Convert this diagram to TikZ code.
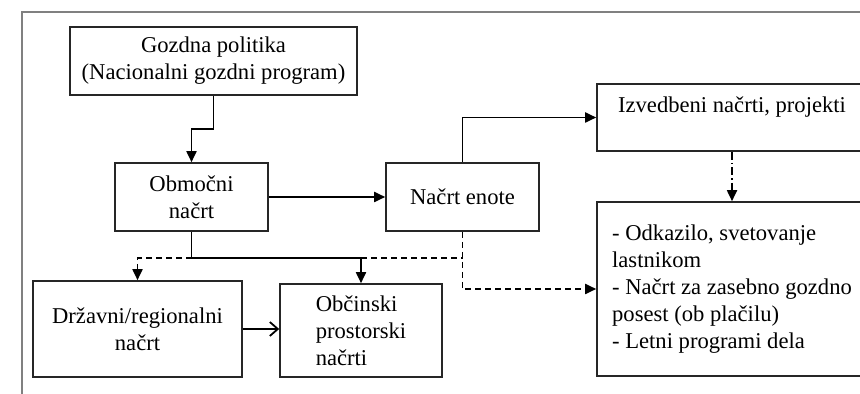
\documentclass[tikz,border=0pt]{standalone}
\usepackage{fontspec}
\setmainfont{Liberation Serif}
\usetikzlibrary{arrows.meta}

\begin{document}
\begin{tikzpicture}[x=0.5pt,y=-0.5pt,
  box/.style={draw=black!85,line width=0.8pt,align=center,inner sep=2pt,
    font=\fontsize{11.3}{13.4}\selectfont},
  link/.style={line width=0.9pt,-{Triangle[length=5.5pt,width=5pt]}},
  dashline/.style={dash pattern=on 3pt off 2pt}]
\useasboundingbox (0,0) rectangle (860,394);
\clip (0,0) rectangle (860,394);
\draw[gray,line width=0.7pt] (22,400) -- (22,12) -- (870,12);
% boxes
\node[box,minimum width=143.5pt,minimum height=34pt](pol) at (213.5,61){Gozdna politika\\(Nacionalni gozdni program)};
\node[box,minimum width=76.5pt,minimum height=34pt](obm) at (191.5,197){Območni\\načrt};
\node[box,minimum width=76.5pt,minimum height=34pt](enote) at (462.5,197){Načrt enote};
\node[box,minimum width=135pt,minimum height=33.5pt,text depth=13pt](izv) at (732,117.5){Izvedbeni načrti, projekti};
\node[box,minimum width=135pt,minimum height=87pt,align=left](odk) at (732,289){- Odkazilo, svetovanje\\lastnikom\\- Načrt za zasebno gozdno\\posest (ob plačilu)\\- Letni programi dela};
\node[box,minimum width=104.5pt,minimum height=48pt](drz) at (137.5,329){Državni/regionalni\\načrt};
\node[box,minimum width=81pt,minimum height=46.5pt,align=left](obc) at (361,330.5){Občinski\\prostorski\\načrti};
% connectors
\draw[link] (pol.south) -- ++(0,33) -| (obm.north);
\draw[link] (obm.east) -- (enote.west);
\draw[link] (enote.north) |- (izv.west);
\draw[link,dash pattern=on 4pt off 1.5pt on 0.8pt off 1.5pt] (izv.south) -- (odk.north);
\draw[line width=0.9pt] (obm.south) -- ++(0,26) coordinate (j);
\draw[link] (j) -| (obc.north);
\draw[link,dashline] (j) -| (drz.north);
\coordinate (k) at (obc.north |- j);
\draw[line width=0.9pt,dashline] (k) -- (enote.south |- j);
\draw[link,dashline] (enote.south) |- (odk.west);
\draw[line width=0.9pt,-{Straight Barb[length=4pt,width=7pt]}] (drz.east) -- (drz.east -| obc.west);
\end{tikzpicture}
\end{document}
